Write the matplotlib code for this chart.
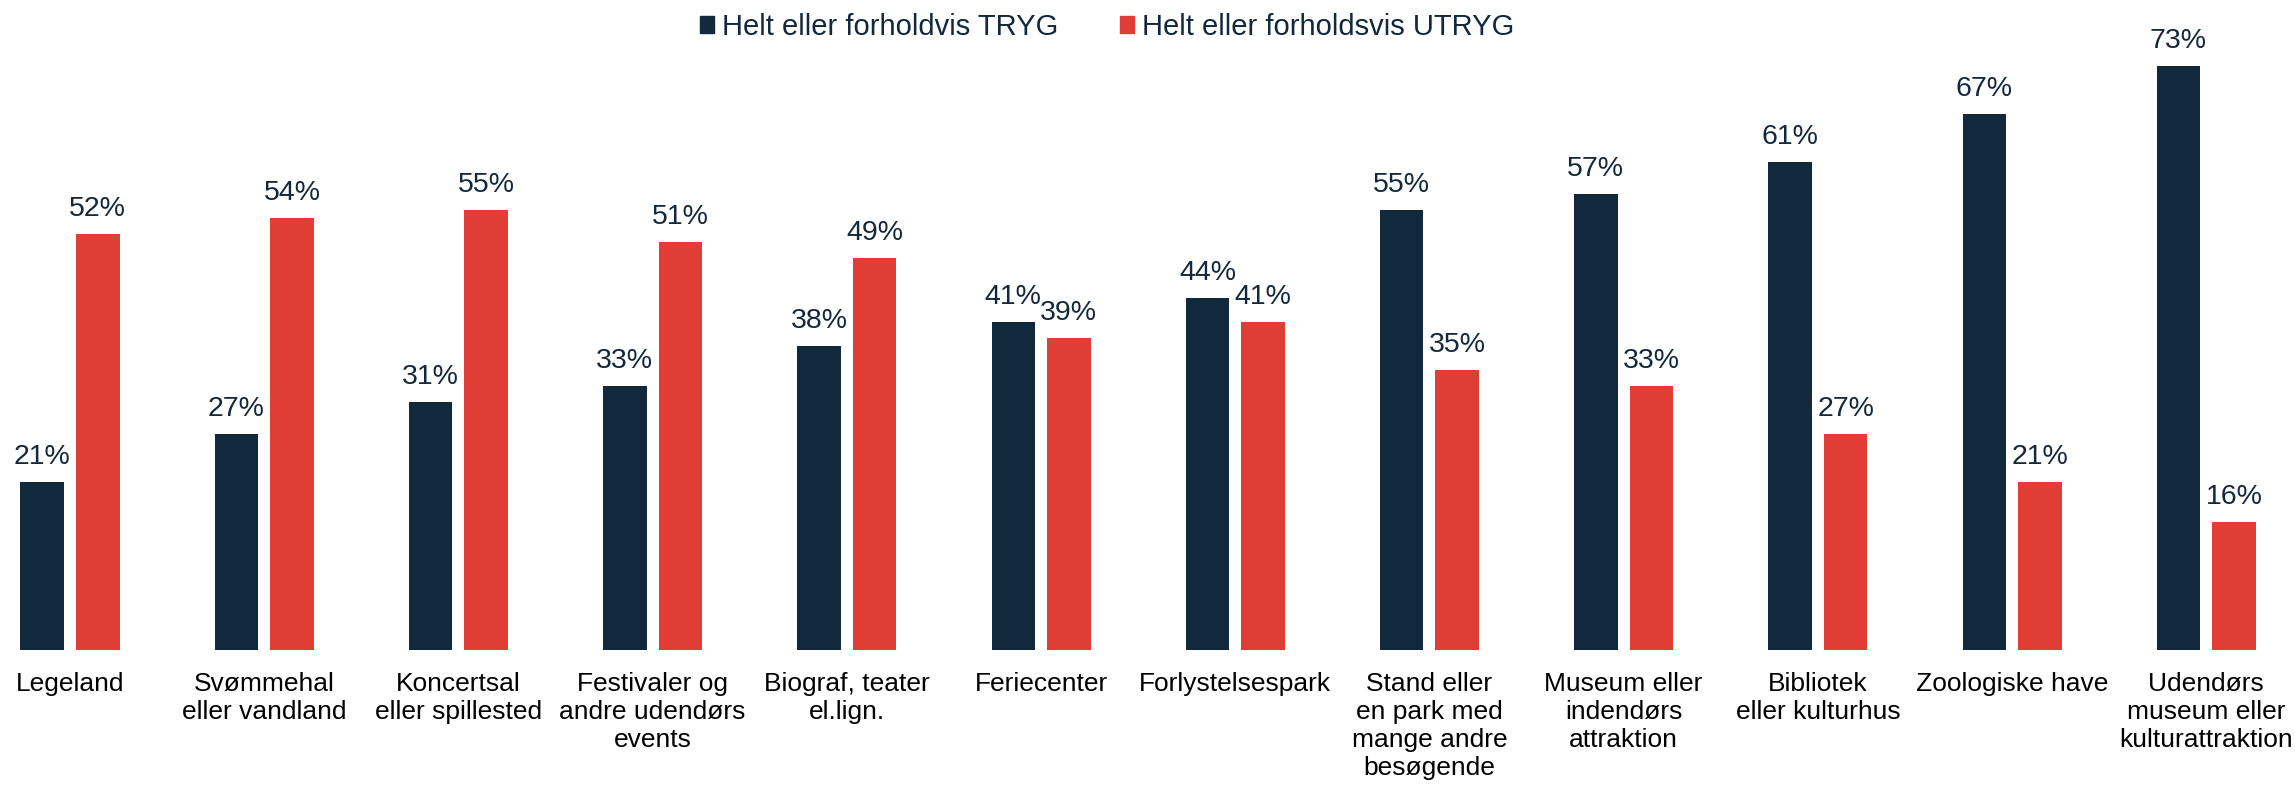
import numpy as np
import matplotlib.pyplot as plt
import matplotlib as mpl
from matplotlib.patches import Patch

# ---- style ----
FONT_FAMILY = ["Liberation Sans", "DejaVu Sans"]
FONT_SIZE_VALUE = 20.5
FONT_SIZE_TICK = 19
FONT_SIZE_LEGEND = 21

COLOR_TRYG = "#12283C"
COLOR_UTRYG = "#E03E34"
COLOR_TEXT = "#12283C"

mpl.rcParams.update({
    "font.family": FONT_FAMILY,
})

# ---- data ----
CATEGORIES = [
    "Legeland",
    "Svømmehal\neller vandland",
    "Koncertsal\neller spillested",
    "Festivaler og\nandre udendørs\nevents",
    "Biograf, teater\nel.lign.",
    "Feriecenter",
    "Forlystelsespark",
    "Stand eller\nen park med\nmange andre\nbesøgende",
    "Museum eller\nindendørs\nattraktion",
    "Bibliotek\neller kulturhus",
    "Zoologiske have",
    "Udendørs\nmuseum eller\nkulturattraktion",
]
TRYG = [21, 27, 31, 33, 38, 41, 44, 55, 57, 61, 67, 73]
UTRYG = [52, 54, 55, 51, 49, 39, 41, 35, 33, 27, 21, 16]
LABEL_TRYG = "Helt eller forholdvis TRYG"
LABEL_UTRYG = "Helt eller forholdsvis UTRYG"

BAR_WIDTH = 0.224
OFFSET = 0.143

fig = plt.figure(figsize=(22.95, 7.86), dpi=100)
ax = fig.add_axes([0, 0.173, 1, 0.827])

x = np.arange(len(CATEGORIES))
b1 = ax.bar(x - OFFSET, TRYG, BAR_WIDTH, color=COLOR_TRYG, label=LABEL_TRYG)
b2 = ax.bar(x + OFFSET, UTRYG, BAR_WIDTH, color=COLOR_UTRYG, label=LABEL_UTRYG)

for bars in (b1, b2):
    ax.bar_label(bars, labels=[f"{v}%" for v in bars.datavalues],
                 padding=8.5, fontsize=FONT_SIZE_VALUE, color=COLOR_TEXT)

ax.set_xlim(-0.3605, 11.457)
ax.set_ylim(0, 81.25)
ax.set_xticks(x)
ax.set_xticklabels(CATEGORIES, fontsize=FONT_SIZE_TICK, color="black",
                   ha="center", multialignment="center")
ax.tick_params(axis="x", length=0, pad=16)
ax.set_yticks([])
for s in ax.spines.values():
    s.set_visible(False)

handles = [Patch(color=COLOR_TRYG), Patch(color=COLOR_UTRYG)]
leg = fig.legend(handles, [LABEL_TRYG, LABEL_UTRYG], loc="center",
                 bbox_to_anchor=(0.4824, 1 - 27 / 786), ncol=2, frameon=False,
                 fontsize=FONT_SIZE_LEGEND, handlelength=0.5, handleheight=0.5,
                 handletextpad=0.27, columnspacing=2.1)
for t in leg.get_texts():
    t.set_color(COLOR_TEXT)

fig.savefig("out.png", dpi=100)
